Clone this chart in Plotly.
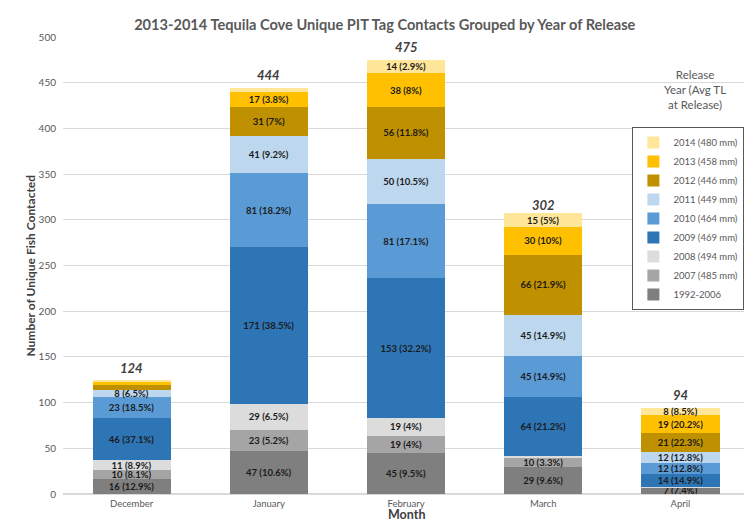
import plotly.graph_objects as go

months = ['December', 'January', 'February', 'March', 'April']
totals = [124, 444, 475, 302, 94]

# release groups, bottom of the stack first
groups = ['1992-2006', '2007 (485 mm)', '2008 (494 mm)', '2009 (469 mm)', '2010 (464 mm)',
          '2011 (449 mm)', '2012 (446 mm)', '2013 (458 mm)', '2014 (480 mm)']

n_1992_2006 = [16, 47, 45, 29, 7]
n_2007 = [10, 23, 19, 10, 0]
n_2008 = [11, 29, 19, 3, 1]
n_2009 = [46, 171, 153, 64, 14]
n_2010 = [23, 81, 81, 45, 12]
n_2011 = [8, 41, 50, 45, 12]
n_2012 = [5, 31, 56, 66, 21]
n_2013 = [4, 17, 38, 30, 19]
n_2014 = [1, 4, 14, 15, 8]

# percent labels as printed on the bars (None = no label)
p_1992_2006 = [12.9, 10.6, 9.5, 9.6, 7.4]
p_2007 = [8.1, 5.2, 4, 3.3, None]
p_2008 = [8.9, 6.5, 4, None, None]
p_2009 = [37.1, 38.5, 32.2, 21.2, 14.9]
p_2010 = [18.5, 18.2, 17.1, 14.9, 12.8]
p_2011 = [6.5, 9.2, 10.5, 14.9, 12.8]
p_2012 = [None, 7, 11.8, 21.9, 22.3]
p_2013 = [None, 3.8, 8, 10, 20.2]
p_2014 = [None, None, 2.9, 5, 8.5]

counts = [n_1992_2006, n_2007, n_2008, n_2009, n_2010, n_2011, n_2012, n_2013, n_2014]
pcts = [p_1992_2006, p_2007, p_2008, p_2009, p_2010, p_2011, p_2012, p_2013, p_2014]
colors = ['#7f7f7f', '#a5a5a5', '#dcdcdc', '#2e75b6', '#5b9bd5',
          '#bdd7ee', '#bf9000', '#ffc000', '#ffe699']

FONT = 'Lato'

fig = go.Figure()
for name, vals, pc, col in zip(groups, counts, pcts, colors):
    labels = [f'{v} ({p:g}%)' if p is not None else '' for v, p in zip(vals, pc)]
    fig.add_trace(go.Bar(
        x=months, y=vals, name=name,
        marker=dict(color=col, line=dict(width=0)),
        text=labels, textposition='inside', insidetextanchor='middle', textangle=0,
        textfont=dict(family=FONT, size=9.5, color='#1a1a1a', weight='bold'),
    ))

# month totals above the stacks
for m, t in zip(months, totals):
    fig.add_annotation(x=m, y=t, text=str(t), showarrow=False, yanchor='bottom', yshift=3,
                       font=dict(family=FONT, size=13, color='#404040', weight='bold', style='italic'))

# note: the page body has an 8px margin, so the layout is shifted up/left by 8px
fig.update_layout(
    width=752, height=522,
    barmode='stack', bargap=0.43,
    paper_bgcolor='white', plot_bgcolor='white',
    margin=dict(l=55, r=11, t=29, b=36),
    font=dict(family=FONT, color='#595959'),
    uniformtext=dict(minsize=9.5, mode='show'),
    title=dict(text='<b>2013-2014 Tequila Cove Unique PIT Tag Contacts Grouped by Year of Release</b>',
               x=0.501, xanchor='center', y=0.967, yanchor='middle',
               font=dict(family=FONT, size=14.6, color='#595959')),
    legend=dict(x=0.83, y=0.803, xanchor='left', yanchor='top',
                traceorder='reversed', bordercolor='#595959', borderwidth=1,
                bgcolor='white', font=dict(family=FONT, size=9.5, color='#595959'),
                itemwidth=30),
    showlegend=True,
)
fig.update_xaxes(showline=False, ticks='', ticklabelstandoff=2,
                 tickfont=dict(family=FONT, size=9.5, color='#595959'), automargin=False)
fig.update_yaxes(range=[0, 500], dtick=50, showgrid=True, gridcolor='#d9d9d9', zeroline=True,
                 zerolinecolor='#d9d9d9', ticks='', ticklabelstandoff=6,
                 tickfont=dict(family=FONT, size=10, color='#595959'), automargin=False)

fig.add_annotation(text='<b>Number of Unique Fish Contacted</b>', textangle=-90,
                   xref='paper', yref='paper', x=-0.048, y=0.5, xanchor='center', yanchor='middle',
                   showarrow=False, font=dict(family=FONT, size=12, color='#404040'))
fig.add_annotation(text='<b>Month</b>', xref='paper', yref='paper', x=0.5, y=-0.045,
                   xanchor='center', yanchor='middle', showarrow=False,
                   font=dict(family=FONT, size=12.5, color='#404040'))
fig.add_annotation(text='Release<br>Year (Avg TL<br>at Release)', xref='paper', yref='paper',
                   x=0.922, y=0.885, xanchor='center', yanchor='middle', showarrow=False,
                   font=dict(family=FONT, size=11.5, color='#595959'))

fig.write_html('out.html')
